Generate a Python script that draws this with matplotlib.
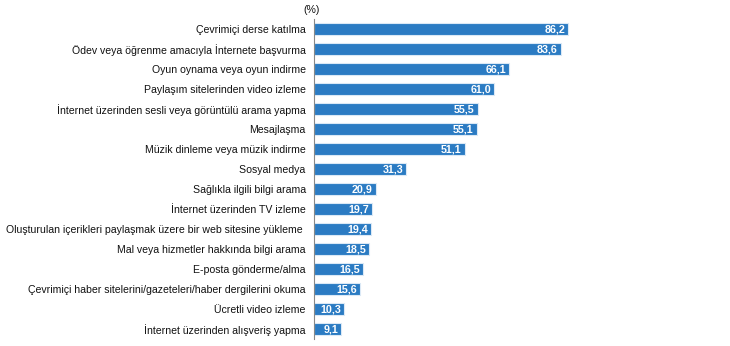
import matplotlib
matplotlib.use("Agg")
import matplotlib.pyplot as plt

categories = [
    "Çevrimiçi derse katılma",
    "Ödev veya öğrenme amacıyla İnternete başvurma",
    "Oyun oynama veya oyun indirme",
    "Paylaşım sitelerinden video izleme",
    "İnternet üzerinden sesli veya görüntülü arama yapma",
    "Mesajlaşma",
    "Müzik dinleme veya müzik indirme",
    "Sosyal medya",
    "Sağlıkla ilgili bilgi arama",
    "İnternet üzerinden TV izleme",
    "Oluşturulan içerikleri paylaşmak üzere bir web sitesine yükleme ",
    "Mal veya hizmetler hakkında bilgi arama",
    "E-posta gönderme/alma",
    "Çevrimiçi haber sitelerini/gazeteleri/haber dergilerini okuma",
    "Ücretli video izleme",
    "İnternet üzerinden alışveriş yapma",
]
values = [86.2, 83.6, 66.1, 61.0, 55.5, 55.1, 51.1, 31.3, 20.9, 19.7, 19.4, 18.5, 16.5, 15.6, 10.3, 9.1]
value_labels = [f"{v:.1f}".replace(".", ",") for v in values]
unit_label = "(%)"

plt.rcParams['font.family'] = ['Liberation Sans', 'DejaVu Sans']

W, H = 730, 346
fig = plt.figure(figsize=(W / 100, H / 100), dpi=100)
left_px, right_px = 314, 314 + 295
top_px, bottom_px = 19, 339
ax = fig.add_axes([left_px / W, 1 - bottom_px / H, (right_px - left_px) / W, (bottom_px - top_px) / H])

n = len(categories)
ypos = list(range(n))
ax.barh(ypos, values, height=0.63, color='#2B7BC3', edgecolor='#dbe9f6', linewidth=0.8, zorder=2)
ax.set_ylim(n - 0.5, -0.5)
ax.set_xlim(0, 100)

for y, v, lab in zip(ypos, values, value_labels):
    ax.text(v - 1.0, y, lab, ha='right', va='center', color='white',
            fontsize=7.7, fontweight='bold', zorder=3)

ax.set_yticks(ypos)
ax.set_yticklabels(categories, fontsize=7.6, color='#111111')
ax.tick_params(axis='y', length=0, pad=6)
ax.set_xticks([])
for s in ['top', 'right', 'bottom']:
    ax.spines[s].set_visible(False)
ax.spines['left'].set_color('#888888')
ax.spines['left'].set_linewidth(0.8)

fig.text(312 / W, 1 - 10 / H, unit_label, ha='center', va='center', fontsize=7.6, color='#111111')

fig.savefig("out.png", dpi=100)
